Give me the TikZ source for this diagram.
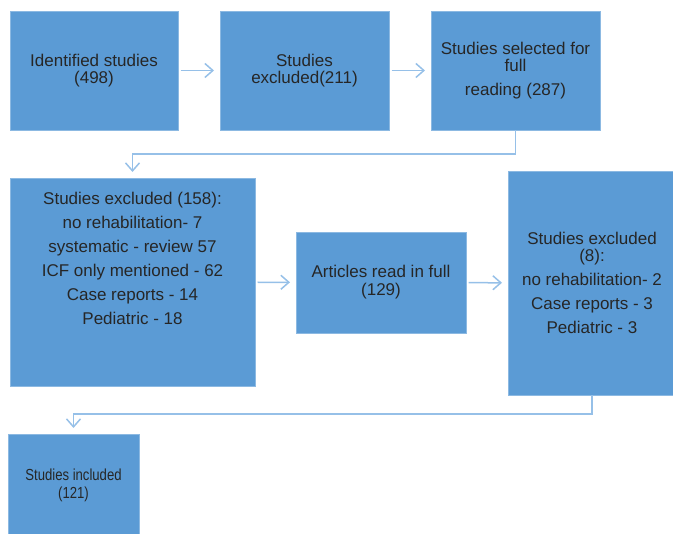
\documentclass[tikz,border=0pt]{standalone}
\usepackage{fontspec}
\setmainfont{Liberation Sans}
\newfontfamily\narrowsans[FakeStretch=0.82]{Liberation Sans}
\usepackage{tikz}
\usetikzlibrary{arrows.meta}
\usepackage{xcolor}
\definecolor{box-blue}{RGB}{91,155,213}
\definecolor{edge-blue}{RGB}{140,185,226}
\definecolor{arrow-blue}{RGB}{150,192,232}
\tikzstyle{stage}=[rectangle, fill=box-blue, draw=edge-blue, line width=.8pt, inner sep=0pt, outer sep=0pt, align=center, text=black!85, font=\fontsize{17}{17}\selectfont]
\tikzstyle{flow}=[draw=arrow-blue, line width=1.5pt, -{Straight Barb[length=8pt,width=14pt]}, shorten <=2.5pt, shorten >=6pt]
\tikzstyle{pixels}=[x=1pt, y=-1pt]

\begin{document}
\begin{tikzpicture}[pixels]
	\useasboundingbox (0,0) rectangle (673,534);
	\clip (0,0) rectangle (673,534);
	\node[stage, minimum width=168pt, minimum height=119pt] (identified) at (94,70.5) {Identified studies\\(498)};
	\node[stage, minimum width=169pt, minimum height=119pt] (excluded1) at (304.5,70.5) {Studies\\excluded(211)};
	\node[stage, minimum width=169pt, minimum height=119pt] (selected) at (515.5,70.5) {Studies selected for\\full\\[7pt]reading (287)};
	\node[stage, minimum width=245pt, minimum height=208pt] (excluded2) at (132.5,282) {Studies excluded (158):\\[7pt]no rehabilitation- 7\\[7pt]systematic - review 57\\[7pt]ICF only mentioned - 62\\[7pt]Case reports - 14\\[7pt]Pediatric - 18\\[7pt]~\\[7pt]~};
	\node[stage, minimum width=170pt, minimum height=101pt] (fullread) at (381,282.5) {Articles read in full\\[1pt](129)};
	\node[stage, minimum width=168pt, minimum height=224pt] (excluded3) at (592,283) {Studies excluded\\(8):\\[7pt]no rehabilitation- 2\\[7pt]Case reports - 3\\[7pt]Pediatric - 3};
	\node[stage, minimum width=131pt, minimum height=102pt, font=\narrowsans\fontsize{16}{18}\selectfont] (included) at (73.5,485) {Studies included\\(121)};
	\coordinate (turn1) at (515.5,154);
	\coordinate (turn2) at (592,414);
	\draw[flow] (identified) -- (excluded1);
	\draw[flow] (excluded1) -- (selected);
	\draw[flow, shorten <=0pt] (selected.south) -- (turn1) -| (excluded2.north);
	\draw[flow] (excluded2) -- (fullread);
	\draw[flow] (fullread) -- (excluded3);
	\draw[flow, shorten <=0pt] (excluded3.south) -- (turn2) -| (included.north);
\end{tikzpicture}
\end{document}
